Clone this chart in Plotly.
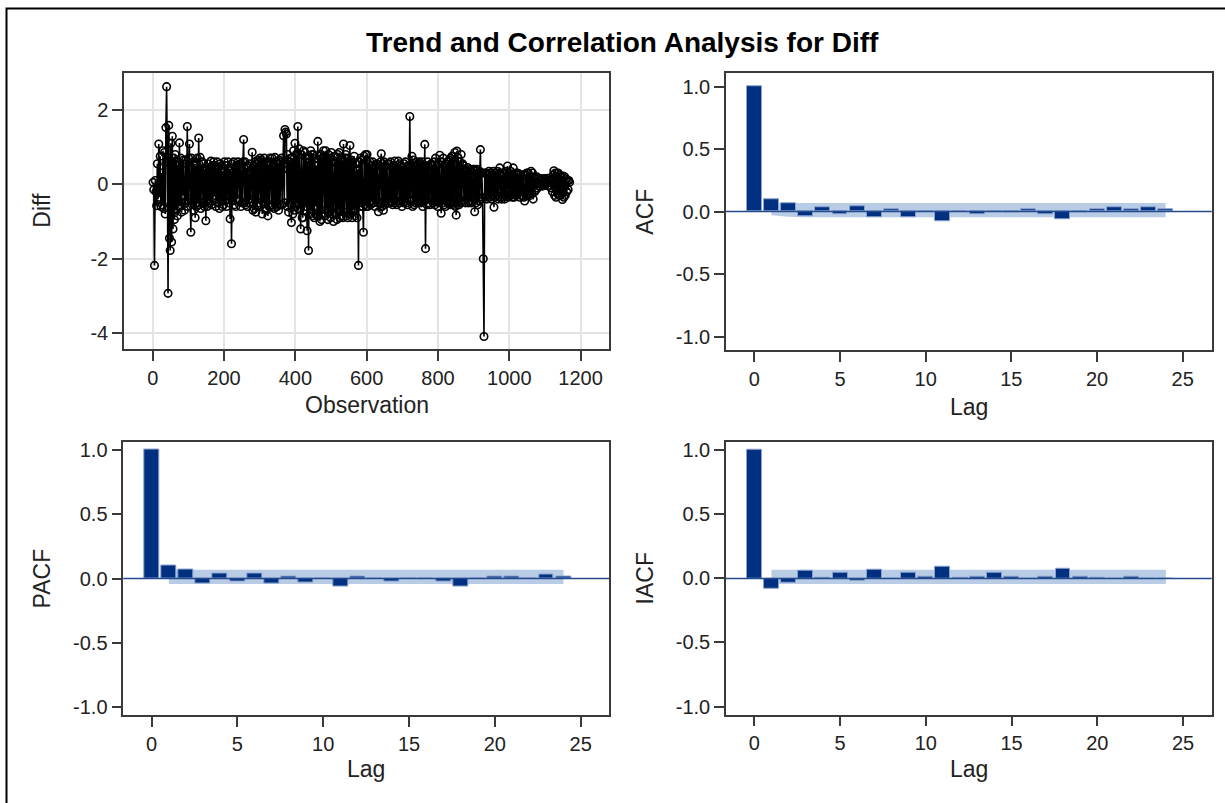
import plotly.graph_objects as go

# ---------------- data ----------------
title_text = "Trend and Correlation Analysis for Diff"

# Diff series (every 2nd observation)
diff_values = [
    0.05, -0.15, -2.18, 0.1, -0.2, -0.58, 0.55, -0.4, 1.08, -0.35, 0.75, -0.6, 0.3, -0.55, 0.9,
    -0.65, 0.85, -0.8, 1.52, 2.62, 0.6, -2.93, 1.58, -1.45, -1.78, 1.1, -1.55, 1.29, -1.2, 0.7,
    -0.95, 0.8, -0.7, 0.6, -0.85, 0.5, -0.6, 1.11, -0.6, 0.7, -0.75, 0.55, -0.3, 0.65, -0.7,
    -0.5, 0.65, -0.45, 1.55, -0.6, 0.7, 1.08, -0.4, -1.29, 0.7, -0.55, 0.6, -0.7, 0.55, -0.9,
    0.5, -0.6, 0.7, -0.5, 1.24, -0.55, 0.72, -0.65, 0.3, 0.6, -0.5, 0.55, -0.6, 0.4, -0.98,
    0.45, -0.6, 0.55, -0.45, 0.4, -0.5, 0.62, -0.55, 0.5, -0.4, 0.6, -0.3, 0.5, -0.6, 0.4,
    0.6, -0.5, 0.45, -0.65, 0.55, -0.4, 0.5, -0.6, 0.35, -0.55, 0.6, -0.45, 0.5, -0.6, 0.3,
    0.6, -0.5, 0.4, -0.93, 0.3, -1.6, 0.55, -0.45, 0.6, -0.55, 0.45, -0.6, 0.5, -0.4, 0.6,
    0.5, -0.45, 0.55, -0.6, 0.4, -0.5, 0.6, 1.2, -0.5, 0.6, -0.55, 0.45, -0.6, 0.5, -0.4,
    -0.5, 0.55, -0.4, 0.3, 0.86, -0.7, 0.5, -0.65, 0.6, -0.75, 0.55, -0.6, 0.65, -0.5, 0.6,
    0.7, -0.55, 0.65, -0.8, 0.6, -0.5, 0.7, -0.65, 0.55, -0.7, 0.6, -0.85, 0.5, -0.6, 0.7,
    0.6, -0.55, 0.7, -0.6, 0.5, -0.65, 0.72, -0.5, 0.6, -0.6, 0.55, -0.7, 0.65, -0.55, 0.6,
    0.7, -0.55, 0.4, 1.3, -0.5, 1.47, 1.4, 1.35, -0.6, 0.8, -0.75, 0.6, -0.5, 0.7, -1.03,
    0.7, -0.8, 0.9, -0.7, 1.1, -0.6, 0.8, -0.5, 1.55, -0.65, 0.95, -0.7, -1.2, 0.8, -0.9,
    -0.9, 0.9, -0.7, 0.85, -0.6, 0.7, -1.25, 0.6, -1.78, 0.75, -0.8, 0.9, -0.7, 0.8, -0.85,
    0.8, -0.9, 0.7, -0.6, 0.5, -0.85, 1.15, -0.85, 0.75, -1.0, 0.8, -0.95, 0.7, -0.8, 0.9,
    0.7, -0.85, 0.9, -0.7, 0.65, -0.95, 0.8, -0.75, 0.7, -0.9, 0.85, -0.8, 0.6, -1.0, 0.75,
    0.75, -0.8, 0.6, -0.95, 0.8, -0.7, 0.85, -0.9, 0.7, -0.85, 0.6, -0.9, 1.08, -0.75, 0.7,
    0.8, -0.85, 0.7, -0.9, 0.6, -0.8, 1.04, -0.8, 0.65, -0.9, 0.6, -0.7, 0.75, -0.85, 0.55,
    0.55, -0.9, 0.4, -2.18, 0.6, -0.6, 0.7, -0.5, 0.65, -0.6, -1.29, 0.75, -0.55, 0.8, -0.6,
    0.8, -0.6, 0.55, -0.5, 0.6, -0.55, 0.5, -0.45, 0.6, -0.5, 0.45, -0.6, 0.5, -0.4, 0.55,
    -0.5, -0.74, 0.5, -0.5, 0.6, 0.82, -0.6, 0.55, -0.7, 0.6, -0.55, 0.5, -0.45, 0.55, -0.5,
    -0.5, 0.55, -0.45, 0.6, -0.5, 0.45, -0.55, 0.5, -0.4, 0.62, -0.5, 0.45, -0.55, 0.4, 0.62,
    -0.5, 0.55, -0.45, 0.5, -0.6, 0.45, -0.5, 0.55, -0.4, 0.6, -0.5, 0.45, -0.55, 0.5, -0.4,
    1.82, -0.45, 0.4, 0.75, -0.6, 0.65, -0.55, 0.5, -0.5, 0.6, -0.45, 0.55, -0.5, 0.6, -0.45,
    0.55, -0.5, 0.6, -0.6, 0.5, -0.45, 1.07, -1.73, 0.5, -0.55, 0.6, -0.5, 0.45, -0.55, 0.5,
    0.55, -0.45, 0.5, -0.5, 0.6, -0.55, 0.7, -0.45, 0.5, -0.6, 0.55, -0.5, 0.78, -0.4, -0.78,
    0.6, -0.5, 0.7, -0.55, 0.5, -0.6, 0.55, -0.45, 0.6, -0.5, 0.65, -0.55, 0.7, -0.5, 0.75,
    -0.55, 0.75, -0.5, 0.85, -0.6, -0.83, 0.89, -0.5, 0.7, -0.55, 0.6, -0.5, 0.8, -0.45, 0.55,
    0.5, -0.45, 0.4, -0.5, 0.35, -0.4, 0.45, -0.5, 0.3, -0.45, 0.4, -0.5, 0.35, -0.45, 0.4,
    0.4, -0.74, 0.35, -0.5, 0.4, -0.55, 0.3, -0.45, 0.35, 0.93, -0.4, 0.3, -0.35, -2.0, -4.09,
    0.3, -0.35, 0.3, -0.4, 0.25, -0.3, 0.35, -0.35, 0.3, -0.4, 0.25, -0.3, 0.35, -0.62, 0.3,
    -0.35, 0.3, -0.3, 0.35, -0.4, 0.3, 0.44, -0.35, 0.25, -0.4, 0.3, -0.35, 0.3, -0.4, 0.35,
    -0.3, 0.3, 0.49, -0.35, 0.3, -0.3, 0.35, -0.3, 0.25, -0.35, 0.44, -0.35, 0.25, -0.3, 0.3,
    -0.3, 0.3, -0.25, 0.28, -0.35, 0.25, -0.3, 0.2, -0.3, 0.25, -0.35, -0.45, 0.25, -0.3, 0.3,
    -0.3, 0.3, -0.25, 0.2, -0.3, 0.35, -0.25, 0.3, -0.4, 0.2, -0.2, 0.15, -0.15, 0.2, -0.1,
    0.05, 0.15, -0.05, 0.12, 0.0, 0.15, -0.05, 0.1, 0.0, 0.15, -0.03, 0.12, 0.02, 0.16, -0.04,
    0.1, -0.05, 0.12, -0.1, 0.15, -0.2, 0.25, 0.36, -0.3, 0.3, -0.35, 0.2, -0.25, 0.3, -0.3,
    0.25, -0.3, 0.2, 0.1, -0.41, 0.22, -0.35, 0.2, -0.3, 0.15, -0.2, 0.1, -0.15, 0.1, 0.05,
]
observations = list(range(1, 2 * len(diff_values) + 1, 2))

lags = list(range(0, 25))
acf_values = [1.0, 0.10, 0.07, -0.034, 0.032, -0.021, 0.045, -0.047, 0.016, -0.047,
              0.003, -0.074, 0.002, -0.021, 0.002, -0.002, 0.016, -0.021, -0.063, -0.003,
              0.016, 0.032, 0.016, 0.032, 0.016]
pacf_values = [1.0, 0.105, 0.069, -0.041, 0.041, -0.02, 0.041, -0.041, 0.015, -0.031,
               0.002, -0.059, 0.015, 0.002, -0.02, 0.001, -0.002, -0.02, -0.059, 0.001,
               0.015, 0.015, 0.002, 0.031, 0.015]
iacf_values = [1.0, -0.082, -0.031, 0.056, 0.002, 0.041, -0.02, 0.067, 0.001, 0.041,
               0.015, 0.092, 0.002, 0.015, 0.041, 0.015, 0.001, 0.015, 0.079, 0.015,
               0.002, -0.002, 0.015, 0.001, -0.001]

band_lags = list(range(1, 25))
acf_upper = [0.068, 0.068, 0.069, 0.069, 0.069, 0.069, 0.069, 0.069, 0.069, 0.069, 0.069, 0.069,
             0.069, 0.069, 0.069, 0.069, 0.069, 0.069, 0.069, 0.069, 0.069, 0.069, 0.069, 0.069]
acf_lower = [-0.03, -0.042, -0.046, -0.046, -0.046, -0.046, -0.046, -0.046, -0.046, -0.046, -0.046, -0.046,
             -0.046, -0.046, -0.046, -0.046, -0.046, -0.046, -0.046, -0.046, -0.046, -0.046, -0.046, -0.046]
pacf_upper = [0.068, 0.068, 0.068, 0.068, 0.068, 0.068, 0.068, 0.068, 0.068, 0.068, 0.068, 0.068,
              0.068, 0.068, 0.068, 0.068, 0.068, 0.068, 0.068, 0.068, 0.068, 0.068, 0.068, 0.068]
pacf_lower = [-0.043, -0.043, -0.043, -0.043, -0.043, -0.043, -0.043, -0.043, -0.043, -0.043, -0.043, -0.043,
              -0.043, -0.043, -0.043, -0.043, -0.043, -0.043, -0.043, -0.043, -0.043, -0.043, -0.043, -0.043]
iacf_upper = pacf_upper
iacf_lower = pacf_lower

obs_tickvals = [0, 200, 400, 600, 800, 1000, 1200]
diff_tickvals = [-4, -2, 0, 2]
diff_ticktext = ["-4", "-2", "0", "2"]
corr_tickvals = [-1.0, -0.5, 0.0, 0.5, 1.0]
corr_ticktext = ["-1.0", "-0.5", "0.0", "0.5", "1.0"]
lag_tickvals = [0, 5, 10, 15, 20, 25]

# ---------------- styling ----------------
W, H = 1225, 803
FONT = "Liberation Sans, Arial, sans-serif"
BAR_COLOR = "#00307f"
BAR_EDGE = "#8aa2cf"
BAND_COLOR = "#b8cce5"
REF_COLOR = "#234a8c"
AXIS_COLOR = "#3a3a3a"
TICK_SIZE = 20
LABEL_SIZE = 23


def xdom(a, b):
    return [a / W, b / W]


def ydom(top, bottom):
    return [1 - bottom / H, 1 - top / H]


fig = go.Figure()

# Panel 1: series plot
fig.add_trace(go.Scatter(
    x=observations, y=diff_values, mode="lines+markers",
    line=dict(color="black", width=1.6),
    marker=dict(symbol="circle-open", size=7.5, color="black", line=dict(width=1.6)),
    xaxis="x", yaxis="y", showlegend=False, hoverinfo="skip"))

panels = [
    ("x2", "y2", acf_values, acf_upper, acf_lower),
    ("x3", "y3", pacf_values, pacf_upper, pacf_lower),
    ("x4", "y4", iacf_values, iacf_upper, iacf_lower),
]
for xa, ya, vals, up, lo in panels:
    # confidence band (drawn below the bars, positioned by the axes)
    pts = [f"{x},{y}" for x, y in zip(band_lags, up)] + \
          [f"{x},{y}" for x, y in zip(band_lags[::-1], lo[::-1])]
    fig.add_shape(type="path", xref=xa, yref=ya, path="M " + " L ".join(pts) + " Z",
                  fillcolor=BAND_COLOR, line=dict(width=0), layer="below")
    fig.add_trace(go.Bar(x=lags, y=vals, width=0.87,
                         marker=dict(color=BAR_COLOR, line=dict(color=BAR_EDGE, width=1)),
                         xaxis=xa, yaxis=ya, showlegend=False, hoverinfo="skip"))
    fig.add_shape(type="line", xref=f"{xa} domain", yref=ya, x0=0, x1=1, y0=0, y1=0,
                  line=dict(color=REF_COLOR, width=1.5), layer="above")

common = dict(showline=True, mirror=True, linecolor=AXIS_COLOR, linewidth=1.5,
              ticks="outside", ticklen=10, tickwidth=1.5, tickcolor=AXIS_COLOR,
              tickfont=dict(family=FONT, size=TICK_SIZE, color="#222"),
              zeroline=False, fixedrange=True)

layout_axes = dict(
    xaxis=dict(domain=xdom(124, 609), range=[-80.5, 1279.6], tickvals=obs_tickvals,
               showgrid=True, gridcolor="#e4e4e4", gridwidth=1.5, anchor="y", **common),
    yaxis=dict(domain=ydom(71.7, 349), range=[-4.42, 2.98], tickvals=diff_tickvals,
               ticktext=diff_ticktext, showgrid=True, gridcolor="#e4e4e4", gridwidth=1.5,
               anchor="x", **common),
    xaxis2=dict(domain=xdom(726, 1211.7), range=[-1.65, 26.69], tickvals=lag_tickvals,
                showgrid=False, anchor="y2", **common),
    yaxis2=dict(domain=ydom(71.7, 350), range=[-1.106, 1.106], tickvals=corr_tickvals,
                ticktext=corr_ticktext, showgrid=False, anchor="x2", **common),
    xaxis3=dict(domain=xdom(123.3, 609.3), range=[-1.65, 26.67], tickvals=lag_tickvals,
                showgrid=False, anchor="y3", **common),
    yaxis3=dict(domain=ydom(442.3, 717.5), range=[-1.062, 1.066], tickvals=corr_tickvals,
                ticktext=corr_ticktext, showgrid=False, anchor="x3", **common),
    xaxis4=dict(domain=xdom(726, 1211.7), range=[-1.65, 26.67], tickvals=lag_tickvals,
                showgrid=False, anchor="y4", **common),
    yaxis4=dict(domain=ydom(442.5, 717), range=[-1.062, 1.066], tickvals=corr_tickvals,
                ticktext=corr_ticktext, showgrid=False, anchor="x4", **common),
)


def ann(text, px, py, angle=0, size=LABEL_SIZE, bold=False):
    return dict(text=f"<b>{text}</b>" if bold else text, xref="paper", yref="paper",
                x=px / W, y=1 - py / H, xanchor="center", yanchor="middle",
                showarrow=False, textangle=angle,
                font=dict(family=FONT, size=size, color="black" if bold else "#222"))


annotations = [
    ann(title_text, 622, 41, size=28, bold=True),
    ann("Observation", 366.5, 406),
    ann("Diff", 42, 210, angle=-90),
    ann("Lag", 969, 408),
    ann("ACF", 645, 211, angle=-90),
    ann("Lag", 366, 772),
    ann("PACF", 42, 580, angle=-90),
    ann("Lag", 969, 772),
    ann("IACF", 645, 580, angle=-90),
]

fig.add_shape(type="rect", xref="paper", yref="paper", x0=6.5 / W, x1=1.02,
              y0=-0.02, y1=1 - 6.5 / H, line=dict(color="black", width=2), layer="above")

fig.update_layout(
    width=W, height=H, margin=dict(l=0, r=0, t=0, b=0),
    paper_bgcolor="white", plot_bgcolor="white",
    bargap=0, showlegend=False, annotations=annotations,
    font=dict(family=FONT),
    **layout_axes,
)

fig.write_html("out.html", config={"displayModeBar": False},
               post_script="document.body.style.margin='0';document.body.style.overflow='hidden';")
